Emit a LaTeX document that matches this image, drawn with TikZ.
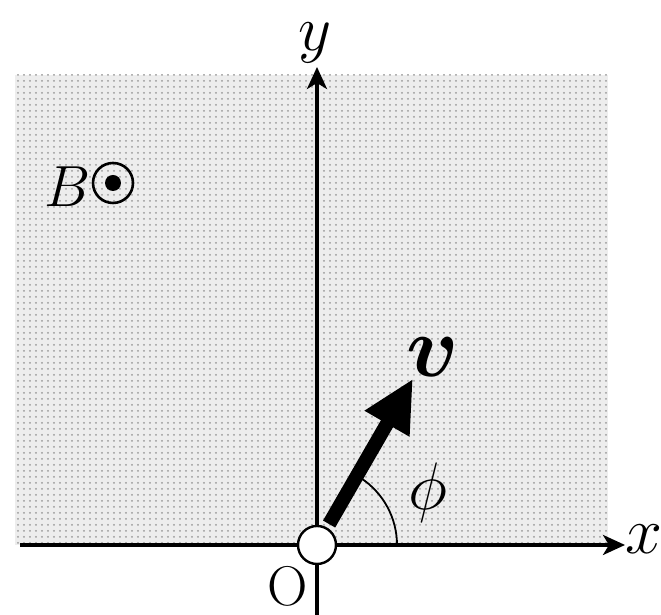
\documentclass[tikz,border=0pt]{standalone}
\usepackage{graphicx}
\usepackage{amsmath,bm}
\usetikzlibrary{arrows.meta,patterns,calc}
\newcommand\mbig[2]{\scalebox{#1}{\fontsize{20.74}{25}\selectfont$#2$}}
\begin{document}
\begin{tikzpicture}[x=0.5pt,y=0.5pt,
  axis/.style={line width=1.7pt,-{Stealth[length=11pt,width=10pt,inset=3pt]}},
  lbl/.style={inner sep=0pt},
  vel/.style={line width=7pt,-{Triangle[length=26pt,width=24pt]},shorten <=2pt}]
\useasboundingbox (0,0) rectangle (661,615);
\fill[black!7] (15,70) rectangle (608,540);
\fill[pattern=dots,pattern color=black!40] (15,70) rectangle (608,540);
\node[circle,draw,line width=1.2pt,fill=white,minimum size=19pt,inner sep=0pt] (O) at (317,70) {};
\coordinate (xs) at (20,70);
\coordinate (xe) at (625,70);
\coordinate (ys) at (317,0);
\coordinate (ye) at (317,548);
\coordinate (vt) at ($(317,70)+(60:192)$);
\draw[line width=1.7pt] (xs) -- (O.west);
\draw[axis] (O.east) -- (xe);
\draw[line width=1.7pt] (ys) -- (O.south);
\draw[axis] (O.north) -- (ye);
\draw[line width=0.9pt] ($(O.center)+(80,0)$) arc[start angle=0,end angle=57,radius=80];
\draw[vel] (O.60) -- (vt);
\node[lbl] (xl) at (644,76) {\mbig{1.6}{x}};
\node[lbl] (yl) at (315,572) {\mbig{1.55}{y}};
\node[lbl,font=\fontsize{28}{34}\selectfont] (ol) at (288,29) {O};
\node[lbl] (vl) at (433,258) {\mbig{2.1}{\bm{v}}};
\node[lbl] (pl) at (428,122) {\mbig{1.62}{\phi}};
\node[lbl] (bl) at (68,428) {\mbig{1.4}{B}};
\node[circle,draw,line width=1.3pt,minimum size=20pt,inner sep=0pt] (bc) at (113,432) {};
\fill (bc.center) circle (8);
\end{tikzpicture}
\end{document}
